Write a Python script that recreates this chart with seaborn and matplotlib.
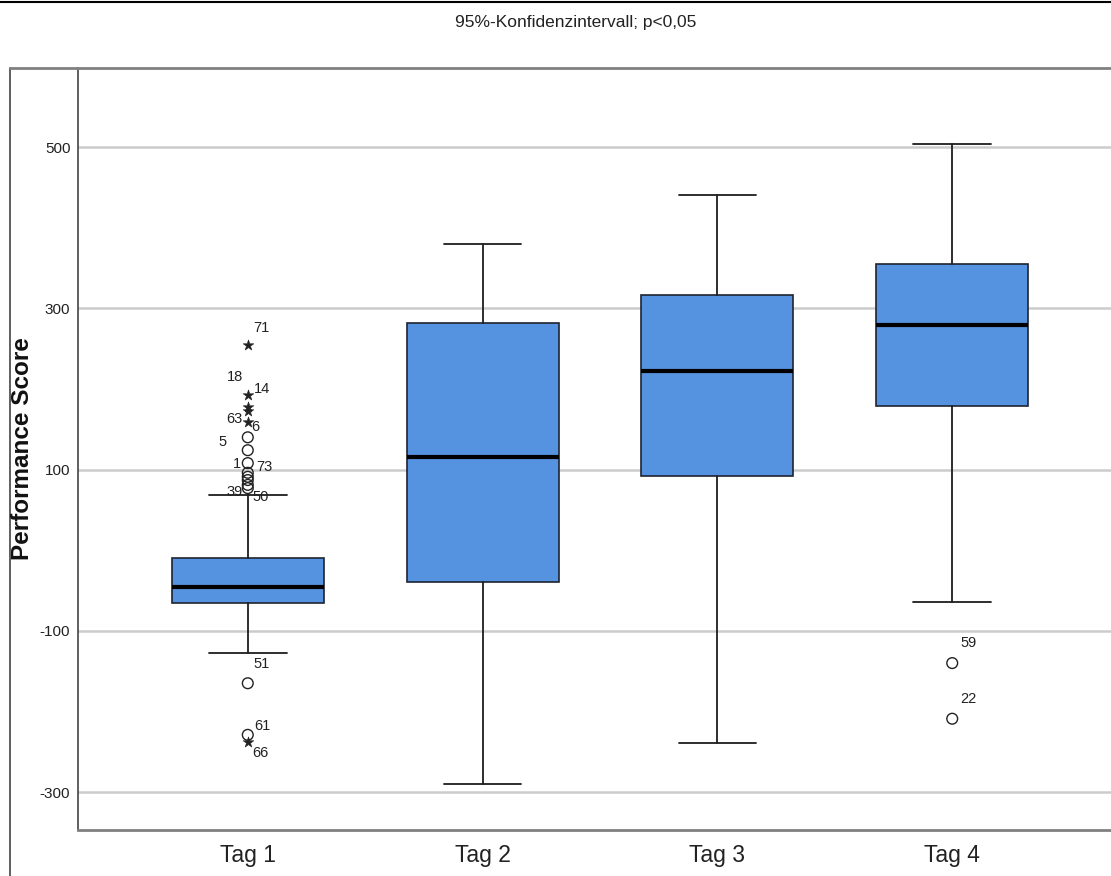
import matplotlib
matplotlib.use("Agg")
import matplotlib.pyplot as plt
from matplotlib import font_manager
from matplotlib.lines import Line2D
import seaborn as sns

# Box statistics per day
categories = ["Tag 1", "Tag 2", "Tag 3", "Tag 4"]
q1 = [-66, -40, 92, 179]
median = [-46, 115, 222, 279]
q3 = [-10, 282, 316, 355]
whisker_low = [-128, -290, -239, -64]
whisker_high = [68, 380, 440, 504]

# Outliers (o) and extreme values (*), with their case numbers
out_day = ["Tag 1"] * 16 + ["Tag 4"] * 2
out_value = [254, 192, 178, 173, 159, 140, 124, 108, 96, 91, 87, 81, 77,
             -165, -229, -238, -140, -209]
out_kind = ["extreme"] * 5 + ["outlier"] * 8 + ["outlier", "outlier", "extreme",
                                                "outlier", "outlier"]
out_case = ["71", "14", "18", "63", "6", "5", "", "1", "73", "", "", "39", "50",
            "51", "61", "66", "59", "22"]

y_ticks = [-300, -100, 100, 300, 500]
title = "95%-Konfidenzintervall; p<0,05"
y_label = "Performance Score"

# label placement around each point: (dx px, dy px, ha)
label_offsets = [(5, 17, "left"), (6, 6, "left"), (-5, 30, "right"),
                 (-5, -8, "right"), (3, -5, "left"), (-21, -5, "right"),
                 (0, 0, "left"), (-7, -1, "right"), (8, 6, "left"),
                 (0, 0, "left"), (0, 0, "left"), (-5, -7, "right"),
                 (5, -9, "left"), (6, 19, "left"), (6, 9, "left"),
                 (4, -11, "left"), (8, 20, "left"), (8, 20, "left")]

sns.set_style("white")
available = {f.name for f in font_manager.fontManager.ttflist}
narrow = "Liberation Sans Narrow" if "Liberation Sans Narrow" in available else "Liberation Sans"
plt.rcParams["font.family"] = [narrow, "DejaVu Sans"]

W, H = 1111, 876
fig = plt.figure(figsize=(W / 100, H / 100), dpi=100)
ax = fig.add_axes([78 / W, 46 / H, 1044 / W, 762 / H])

stats = [
    dict(label=c, q1=a, med=m, q3=b, whislo=lo, whishi=hi, fliers=[])
    for c, a, m, b, lo, hi in zip(categories, q1, median, q3, whisker_low, whisker_high)
]
positions = list(range(len(categories)))
ax.bxp(stats, positions=positions, widths=0.647, capwidths=0.33,
       patch_artist=True, showfliers=False,
       boxprops=dict(facecolor="#5592e0", edgecolor="#1e2430", linewidth=1.2),
       medianprops=dict(color="black", linewidth=3.0, solid_capstyle="butt"),
       whiskerprops=dict(color="#1e1e1e", linewidth=1.3),
       capprops=dict(color="#1e1e1e", linewidth=1.3))

out_pos = [categories.index(d) for d in out_day]
circ_x = [p for p, k in zip(out_pos, out_kind) if k == "outlier"]
circ_y = [v for v, k in zip(out_value, out_kind) if k == "outlier"]
star_x = [p for p, k in zip(out_pos, out_kind) if k == "extreme"]
star_y = [v for v, k in zip(out_value, out_kind) if k == "extreme"]

sns.scatterplot(x=circ_x, y=circ_y, ax=ax, marker="o", s=60,
                facecolor="none", edgecolor="#222222", linewidth=1.0, zorder=4)
sns.scatterplot(x=star_x, y=star_y, ax=ax, marker="*", s=65,
                color="#222222", edgecolor="#222222", linewidth=0.4, zorder=4)

for p, v, lab, (dx, dy, ha) in zip(out_pos, out_value, out_case, label_offsets):
    if lab:
        ax.annotate(lab, (p, v), xytext=(dx, dy), textcoords="offset pixels",
                    ha=ha, va="center", fontsize=10.5, color="#222222", zorder=5)

ax.set_xlim(-0.723, 3.723)
ax.set_ylim(-347, 598)
ax.set_xticks(positions)
ax.set_xticklabels(categories, fontsize=16.5, color="#222222")
ax.set_yticks(y_ticks)
ax.set_yticklabels([str(t) for t in y_ticks], fontsize=11, color="#222222")
ax.tick_params(axis="both", length=0)
ax.tick_params(axis="x", pad=10)
ax.tick_params(axis="y", pad=5.5)
ax.yaxis.grid(True, color="#cccccc", linewidth=1.8)
ax.xaxis.grid(False)
ax.set_axisbelow(True)
ax.set_xlabel("")
ax.set_ylabel("")

for side in ("top", "bottom"):
    ax.spines[side].set_color("#808080")
    ax.spines[side].set_linewidth(2.0)
ax.spines["left"].set_color("#444444")
ax.spines["left"].set_linewidth(1.2)
ax.spines["right"].set_visible(False)

fig.text(576 / W, 1 - 23 / H, title, ha="center", va="center",
         fontsize=12.5, color="#222222")
fig.text(23 / W, 1 - 449 / H, y_label, ha="center", va="center",
         rotation=90, fontsize=17.5, fontweight="bold", color="#111111",
         family=["Liberation Sans", "DejaVu Sans"])

# surrounding frame and top rule
fig.add_artist(Line2D([0, 1], [1 - 1.5 / H] * 2, color="black", linewidth=1.5))
fig.add_artist(Line2D([10 / W, 10 / W], [0, 1 - 68 / H], color="#444444", linewidth=1.2))
fig.add_artist(Line2D([10 / W, 78 / W], [1 - 68 / H] * 2, color="#808080", linewidth=2.0))

fig.savefig("out.png", dpi=100)
